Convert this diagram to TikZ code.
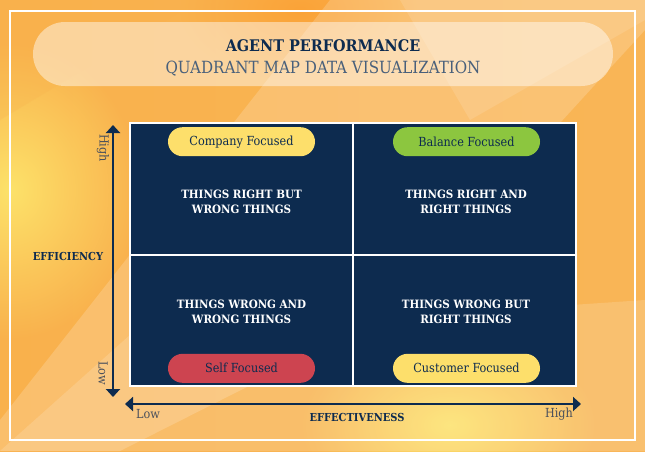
\documentclass[tikz,border=0pt]{standalone}
\usepackage{fontspec}
\setmainfont{DejaVu Serif Condensed}
\usetikzlibrary{arrows.meta,positioning,fadings}
\definecolor{navy}{HTML}{0D2B4F}
\definecolor{pillyellow}{HTML}{FDDF6B}
\definecolor{pillgreen}{HTML}{8CC63F}
\definecolor{pillred}{HTML}{CD4450}
\definecolor{axisgray}{HTML}{4A505C}
\definecolor{bgorange}{HTML}{F9B14C}
\definecolor{bgpeach}{HTML}{FBCF92}
\definecolor{bgyellow}{HTML}{FDE26A}
\tikzfading[name=glow,inner color=transparent!0,outer color=transparent!100]
\tikzset{
  quad/.style={fill=navy,draw=white,line width=2pt,minimum width=223pt,minimum height=131.5pt,inner sep=0pt},
  quadtext/.style={text=white,font=\bfseries\fontsize{11.5}{15}\selectfont,align=center},
  pill/.style={rounded corners=14.5pt,minimum width=147pt,minimum height=29pt,inner sep=0pt,text=navy,font=\fontsize{12.5}{14}\selectfont},
  axis/.style={navy,line width=2pt,{Triangle[width=14pt,length=8pt]}-{Triangle[width=14pt,length=8pt]}},
  axisname/.style={text=navy,font=\bfseries\fontsize{11}{13}\selectfont},
  axistick/.style={text=axisgray,font=\fontsize{12.5}{14}\selectfont}
}
\begin{document}
\begin{tikzpicture}[x=1pt,y=-1pt]
  \useasboundingbox (0,0) rectangle (645,451);
  \shade[left color=bgorange,middle color=bgpeach,right color=bgorange!85!bgpeach] (0,0) rectangle (645,451);
  \fill[bgyellow,path fading=glow] (-120,40) rectangle (140,340);
  \fill[bgyellow,path fading=glow] (300,330) rectangle (600,520);
  \fill[orange!60!bgorange,opacity=.5,path fading=glow] (180,-60) rectangle (420,80);
  \fill[white,opacity=.18] (330,0) -- (645,0) -- (645,30) -- (380,320) -- (120,451) -- (0,451) -- (0,420) -- cycle;
  \fill[white,opacity=.15] (0,451) -- (130,335) -- (645,300) -- (645,451) -- cycle;
  \fill[white,opacity=.12] (400,0) -- (470,120) -- (645,20) -- (645,0) -- cycle;
  \fill[bgorange,opacity=.25] (0,120) -- (200,0) -- (0,0) -- cycle;
  \draw[white,line width=2pt] (10,11) rectangle (635,440);

  \fill[white,opacity=.45,rounded corners=32pt] (33,22) rectangle (613,86);
  \node[text=navy,font=\bfseries\fontsize{16}{18}\selectfont] (title) at (323,46) {AGENT PERFORMANCE};
  \node[text=navy!75,font=\fontsize{16.8}{18}\selectfont] (subtitle) at (323,69) {QUADRANT MAP DATA VISUALIZATION};

  \node[quad] (tl) at (241.5,188.75) {};
  \node[quad] (tr) at (464.5,188.75) {};
  \node[quad] (bl) at (241.5,320.25) {};
  \node[quad] (br) at (464.5,320.25) {};

  \node[pill,fill=pillyellow,below=5pt of tl.north] (company) {Company Focused};
  \node[pill,fill=pillgreen,below=5pt of tr.north,xshift=2pt] (balance) {Balance Focused};
  \node[pill,fill=pillred,above=4pt of bl.south] (self) {Self Focused};
  \node[pill,fill=pillyellow,above=4pt of br.south,xshift=2pt] (customer) {Customer Focused};

  \node[quadtext] (tltext) at (241.5,202) {THINGS RIGHT BUT\\WRONG THINGS};
  \node[quadtext] (trtext) at (466,202) {THINGS RIGHT AND\\RIGHT THINGS};
  \node[quadtext] (bltext) at (241.5,312) {THINGS WRONG AND\\WRONG THINGS};
  \node[quadtext] (brtext) at (466,312) {THINGS WRONG BUT\\RIGHT THINGS};

  \coordinate (ytop) at (113,125);
  \coordinate (ybot) at (113,397);
  \coordinate (xleft) at (125,404);
  \coordinate (xright) at (581,404);
  \draw[axis] (ybot) -- (ytop);
  \draw[axis] (xleft) -- (xright);

  \node[axistick,rotate=-90] (yhigh) at (103,148) {High};
  \node[axistick,rotate=-90] (ylow) at (103,373) {Low};
  \node[axisname] (efficiency) at (68,256) {EFFICIENCY};
  \node[axistick] (xlow) at (148,414) {Low};
  \node[axistick] (xhigh) at (559,414) {High};
  \node[axisname] (effectiveness) at (357,417) {EFFECTIVENESS};
\end{tikzpicture}
\end{document}
